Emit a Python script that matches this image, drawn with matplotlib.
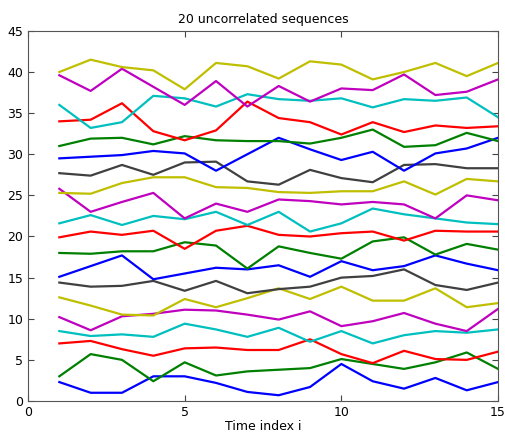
import numpy as np
import matplotlib.pyplot as plt

t = np.arange(1, 16)

# sequences from bottom to top
seqs = [
    [2.3, 1.0, 1.0, 3.0, 3.0, 2.2, 1.1, 0.7, 1.7, 4.5, 2.4, 1.5, 2.8, 1.3, 2.3],
    [3.0, 5.7, 5.0, 2.4, 4.7, 3.1, 3.6, 3.8, 4.0, 5.1, 4.5, 3.9, 4.7, 5.9, 3.9],
    [7.0, 7.3, 6.3, 5.5, 6.4, 6.5, 6.2, 6.2, 7.5, 5.7, 4.6, 6.1, 5.1, 5.0, 6.0],
    [8.5, 7.9, 8.1, 7.8, 9.4, 8.7, 7.8, 8.9, 7.2, 8.5, 7.0, 8.0, 8.5, 8.3, 8.7],
    [10.2, 8.6, 10.3, 10.6, 11.1, 11.0, 10.5, 9.9, 10.9, 9.1, 9.7, 10.7, 9.4, 8.5, 11.2],
    [12.6, 11.6, 10.5, 10.4, 12.4, 11.4, 12.5, 13.7, 12.4, 13.9, 12.2, 12.2, 13.7, 11.4, 11.9],
    [14.4, 13.9, 14.0, 14.6, 13.4, 14.6, 13.1, 13.6, 13.9, 15.0, 15.2, 16.0, 14.1, 13.5, 14.4],
    [15.1, 16.4, 17.7, 14.8, 15.5, 16.2, 16.0, 16.5, 15.1, 17.0, 15.9, 16.4, 17.7, 16.7, 15.9],
    [18.0, 17.9, 18.2, 18.2, 19.3, 18.9, 16.1, 18.8, 18.0, 17.3, 19.4, 19.9, 17.8, 19.1, 18.4],
    [19.9, 20.6, 20.2, 20.7, 18.5, 20.7, 21.3, 20.2, 20.0, 20.4, 20.6, 19.5, 20.7, 20.6, 20.6],
    [21.6, 22.6, 21.4, 22.5, 22.1, 23.0, 21.4, 23.0, 20.6, 21.6, 23.4, 22.7, 22.2, 21.7, 21.5],
    [25.8, 23.0, 24.2, 25.3, 22.2, 24.0, 23.0, 24.5, 24.3, 23.9, 24.2, 23.9, 22.2, 25.0, 24.4],
    [25.3, 25.2, 26.5, 27.2, 27.2, 26.0, 25.9, 25.4, 25.3, 25.5, 25.5, 26.7, 25.1, 27.0, 26.7],
    [27.7, 27.4, 28.7, 27.5, 29.0, 29.1, 26.7, 26.3, 28.1, 27.1, 26.6, 28.7, 28.8, 28.3, 28.3],
    [29.5, 29.7, 29.9, 30.4, 30.1, 28.0, 30.0, 32.0, 30.6, 29.3, 30.3, 28.0, 30.1, 30.7, 32.0],
    [31.0, 31.9, 32.0, 31.2, 32.2, 31.7, 31.6, 31.6, 31.3, 32.0, 33.0, 30.9, 31.1, 32.6, 31.6],
    [34.0, 34.2, 36.2, 32.8, 31.7, 32.9, 36.4, 34.4, 33.9, 32.4, 33.9, 32.7, 33.5, 33.2, 33.4],
    [36.0, 33.2, 33.9, 37.1, 36.8, 35.8, 37.3, 36.7, 36.5, 36.8, 35.7, 36.7, 36.5, 36.9, 34.5],
    [39.6, 37.7, 40.4, 38.2, 36.0, 38.9, 35.8, 38.3, 36.4, 38.0, 37.8, 39.7, 37.2, 37.6, 39.1],
    [40.0, 41.5, 40.6, 40.2, 37.9, 41.1, 40.7, 39.2, 41.3, 40.9, 39.1, 40.0, 41.1, 39.5, 41.1],
]

colors = [(0, 0, 1), (0, 0.5, 0), (1, 0, 0), (0, 0.75, 0.75),
          (0.75, 0, 0.75), (0.75, 0.75, 0), (0.25, 0.25, 0.25)]

fig = plt.figure(figsize=(5.06, 4.38), dpi=100)
ax = fig.add_axes([0.0553, 0.0845, 0.929, 0.845])
for k, s in enumerate(seqs):
    ax.plot(t, s, color=colors[k % 7], lw=1.6)

ax.set_xlim(0, 15)
ax.set_ylim(0, 45)
ax.set_xticks([0, 5, 10, 15])
ax.set_yticks(np.arange(0, 46, 5))
ax.tick_params(direction='in', top=True, right=True, labelsize=9, length=4, color='#444444')
for sp in ax.spines.values():
    sp.set_color('#555555')
ax.set_title('20 uncorrelated sequences', fontsize=9)
ax.set_xlabel('Time index i', fontsize=9, labelpad=1)
fig.savefig('out.png', dpi=100)
